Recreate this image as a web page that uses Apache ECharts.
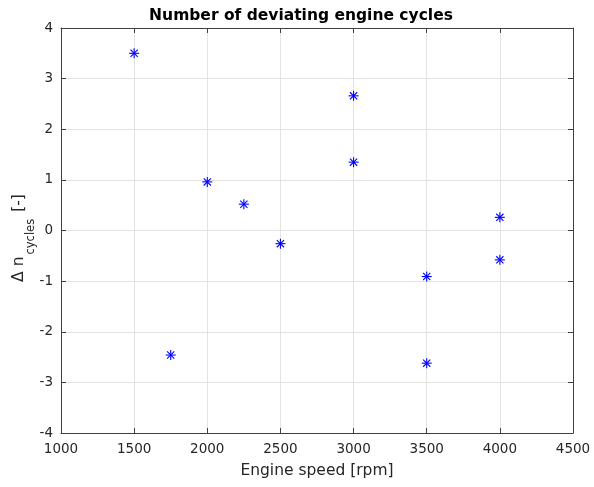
<!DOCTYPE html>
<html>
<head>
<meta charset="utf-8">
<script src="https://cdn.jsdelivr.net/npm/echarts@6/dist/echarts.min.js"></script>
<style>
  html, body { margin: 0; padding: 0; background: #fff; }
  #chart { width: 594px; height: 487px; }
</style>
</head>
<body>
<div id="chart"></div>
<script>
// Engine speed [rpm] and the deviation in engine cycles at each operating point
const engineSpeed = [1500, 1750, 2000, 2250, 2500, 3000, 3000, 3500, 3500, 4000, 4000];
const deltaCycles = [3.5, -2.46, 0.96, 0.52, -0.26, 2.66, 1.35, -0.91, -2.62, 0.26, -0.58];

const xTicks = [1000, 1500, 2000, 2500, 3000, 3500, 4000, 4500];
const yTicks = [-4, -3, -2, -1, 0, 1, 2, 3, 4];

const points = engineSpeed.map((s, i) => [s, deltaCycles[i]]);

const FONT = 'DejaVu Sans';
const AXIS_COLOR = '#404040';
const TEXT_COLOR = '#262626';
const GRID_COLOR = '#e3e3e3';

const chart = echarts.init(document.getElementById('chart'), null, { renderer: 'canvas' });

// Asterisk marker: a "+" overlaid with an "x"
function renderAsterisk(params, api) {
  const c = api.coord([api.value(0), api.value(1)]);
  const r = 5, d = 3.6;
  const style = { stroke: '#0000ff', lineWidth: 1.1 };
  const seg = (x1, y1, x2, y2) => ({
    type: 'line',
    shape: { x1: c[0] + x1, y1: c[1] + y1, x2: c[0] + x2, y2: c[1] + y2 },
    style: style
  });
  return {
    type: 'group',
    children: [
      seg(-r, 0, r, 0),
      seg(0, -r, 0, r),
      seg(-d, -d, d, d),
      seg(-d, d, d, -d)
    ]
  };
}

const baseX = {
  type: 'value',
  min: xTicks[0],
  max: xTicks[xTicks.length - 1],
  interval: 500,
  axisLine: { show: true, onZero: false, lineStyle: { color: AXIS_COLOR, width: 1 } },
  axisTick: { show: true, inside: true, length: 5, lineStyle: { color: AXIS_COLOR } }
};
const baseY = {
  type: 'value',
  min: yTicks[0],
  max: yTicks[yTicks.length - 1],
  interval: 1,
  axisLine: { show: true, onZero: false, lineStyle: { color: AXIS_COLOR, width: 1 } },
  axisTick: { show: true, inside: true, length: 5, lineStyle: { color: AXIS_COLOR } }
};

chart.setOption({
  backgroundColor: '#ffffff',
  animation: false,
  title: {
    text: 'Number of deviating engine cycles',
    left: 296,
    textAlign: 'center',
    top: 3,
    textStyle: { fontFamily: FONT, fontSize: 15.5, fontWeight: 'bold', color: '#000' }
  },
  grid: { left: 61, right: 21, top: 28, bottom: 54, containLabel: false },
  xAxis: [
    Object.assign({}, baseX, {
      position: 'bottom',
      name: 'Engine speed [rpm]',
      nameLocation: 'middle',
      nameGap: 30,
      nameTextStyle: { fontFamily: FONT, fontSize: 15.5, color: TEXT_COLOR },
      axisLabel: { fontFamily: FONT, fontSize: 13.5, color: TEXT_COLOR, margin: 9, formatter: v => String(v) },
      splitLine: { show: true, lineStyle: { color: GRID_COLOR, width: 1 } }
    }),
    Object.assign({}, baseX, {
      position: 'top',
      axisLabel: { show: false },
      splitLine: { show: false }
    })
  ],
  yAxis: [
    Object.assign({}, baseY, {
      position: 'left',
      axisLabel: { fontFamily: FONT, fontSize: 13.5, color: TEXT_COLOR, margin: 8, formatter: v => String(v) },
      splitLine: { show: true, lineStyle: { color: GRID_COLOR, width: 1 } }
    }),
    Object.assign({}, baseY, {
      position: 'right',
      axisLabel: { show: false },
      splitLine: { show: false }
    })
  ],
  graphic: [
    {
      // y-axis title with a lowered subscript, read bottom-to-top
      type: 'text',
      x: 20.5,
      y: 238,
      rotation: Math.PI / 2,
      style: {
        text: '{m|Δ n}{s|cycles}{b|[-]}',
        fill: TEXT_COLOR,
        align: 'center',
        verticalAlign: 'middle',
        rich: {
          m: { fontFamily: FONT, fontSize: 15.5, fill: TEXT_COLOR, verticalAlign: 'top', lineHeight: 20 },
          b: { fontFamily: FONT, fontSize: 15.5, fill: TEXT_COLOR, verticalAlign: 'top', lineHeight: 20, padding: [0, 0, 0, 7] },
          s: { fontFamily: FONT, fontSize: 11.5, fill: TEXT_COLOR, verticalAlign: 'top', lineHeight: 13, padding: [15, 0, 0, 2] }
        }
      }
    }
  ],
  series: [
    {
      type: 'custom',
      xAxisIndex: 0,
      yAxisIndex: 0,
      data: points,
      renderItem: renderAsterisk,
      z: 5
    }
  ]
});
</script>
</body>
</html>
